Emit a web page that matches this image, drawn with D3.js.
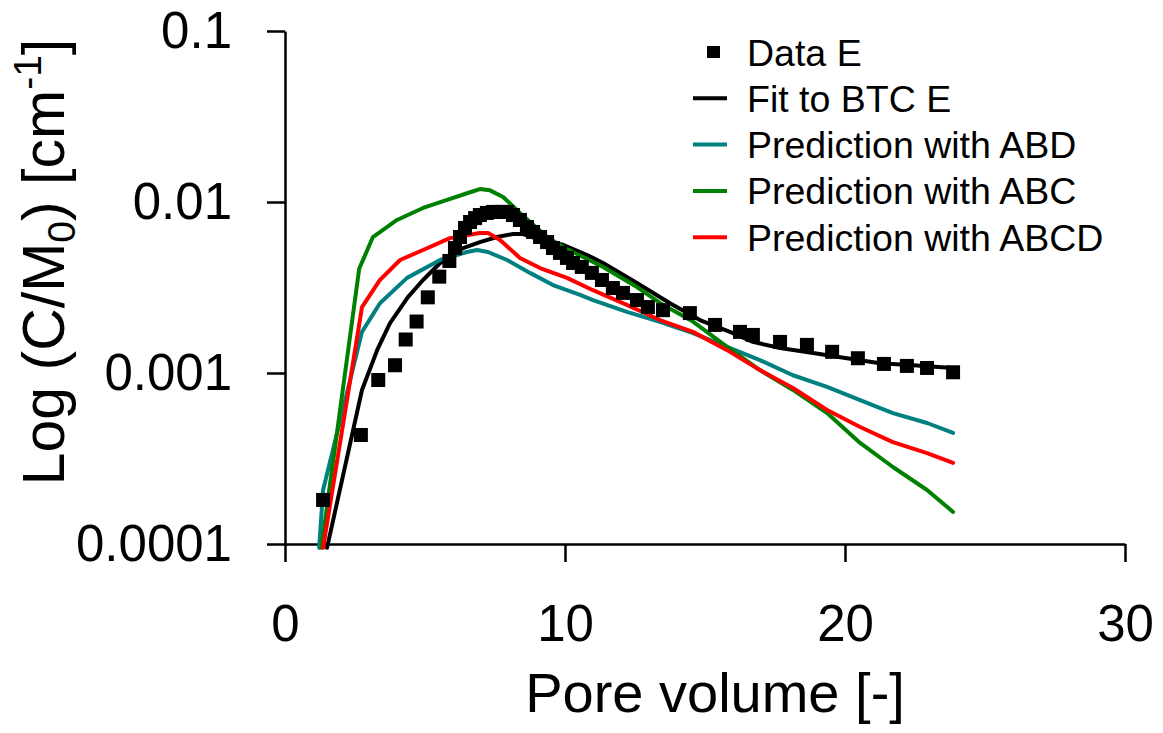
<!DOCTYPE html>
<html>
<head>
<meta charset="utf-8">
<script src="https://cdn.jsdelivr.net/npm/d3@7"></script>
<style>
  body { margin: 0; background: #fff; }
  svg { font-family: "Liberation Sans", Arial, sans-serif; }
</style>
</head>
<body>
<div id="chart"></div>
<script>
// Data (x = pore volume, y = C/M0)
const dataX = [1.36, 2.71, 3.33, 3.93, 4.31, 4.70, 5.10, 5.51, 5.87, 6.07, 6.25, 6.43, 6.61, 6.79, 6.96, 7.21, 7.43, 7.68, 7.93, 8.14, 8.39, 8.64, 8.86, 9.11, 9.36, 9.57, 9.82, 10.07, 10.29, 10.6, 10.96, 11.32, 11.71, 12.07, 12.57, 12.96, 13.5, 14.46, 15.36, 16.25, 16.71, 17.68, 18.64, 19.54, 20.46, 21.39, 22.21, 22.93, 23.86];
const dataY = [1.81e-4, 4.34e-4, 9.1e-4, 1.11e-3, 1.57e-3, 2.0e-3, 2.77e-3, 3.66e-3, 4.52e-3, 5.38e-3, 6.24e-3, 7.05e-3, 7.64e-3, 8.05e-3, 8.39e-3, 8.63e-3, 8.75e-3, 8.75e-3, 8.75e-3, 8.39e-3, 7.85e-3, 7.14e-3, 6.68e-3, 6.24e-3, 5.83e-3, 5.38e-3, 5.04e-3, 4.71e-3, 4.40e-3, 4.17e-3, 3.85e-3, 3.50e-3, 3.14e-3, 2.94e-3, 2.67e-3, 2.43e-3, 2.33e-3, 2.24e-3, 1.91e-3, 1.74e-3, 1.67e-3, 1.52e-3, 1.46e-3, 1.33e-3, 1.22e-3, 1.13e-3, 1.10e-3, 1.07e-3, 1.01e-3];

const fitX = [1.5, 2.75, 3.29, 3.75, 4.39, 4.93, 5.54, 6.36, 6.96, 7.57, 8.14, 8.5, 9.11, 9.93, 10.79, 11.36, 12.57, 13.75, 14.82, 15.89, 16.71, 17.68, 18.86, 20.07, 21.25, 22.43, 23.86];
const fitY = [9.5e-5, 7.96e-4, 1.36e-3, 1.96e-3, 2.78e-3, 3.50e-3, 4.40e-3, 5.38e-3, 5.83e-3, 6.24e-3, 6.50e-3, 6.50e-3, 6.0e-3, 5.62e-3, 4.90e-3, 4.40e-3, 3.36e-3, 2.56e-3, 2.04e-3, 1.74e-3, 1.52e-3, 1.40e-3, 1.31e-3, 1.22e-3, 1.14e-3, 1.11e-3, 1.07e-3];

const abdX = [1.22, 1.36, 2.75, 3.39, 4.36, 5.54, 6.5, 6.86, 7.25, 7.93, 8.75, 9.57, 10.54, 11.0, 12.21, 13.39, 14.57, 15.79, 16.96, 18.14, 19.36, 20.54, 21.71, 22.93, 23.86];
const abdY = [9.5e-5, 2.07e-4, 1.74e-3, 2.56e-3, 3.6e-3, 4.58e-3, 5.1e-3, 5.24e-3, 5.1e-3, 4.58e-3, 3.85e-3, 3.27e-3, 2.86e-3, 2.67e-3, 2.28e-3, 1.99e-3, 1.71e-3, 1.42e-3, 1.19e-3, 9.7e-4, 8.3e-4, 6.95e-4, 5.83e-4, 5.1e-4, 4.46e-4];

const abcX = [1.3, 2.65, 3.14, 4.0, 4.93, 5.79, 6.61, 6.96, 7.32, 7.79, 8.39, 9.36, 9.93, 10.5, 11.36, 12.57, 13.39, 14.57, 15.79, 16.96, 18.14, 19.36, 20.54, 21.71, 22.93, 23.86];
const abcY = [9.5e-5, 4.07e-3, 6.24e-3, 7.85e-3, 9.23e-3, 1.03e-2, 1.14e-2, 1.19e-2, 1.17e-2, 1.07e-2, 8.63e-3, 6.24e-3, 5.46e-3, 4.90e-3, 4.17e-3, 3.18e-3, 2.57e-3, 2.0e-3, 1.42e-3, 1.04e-3, 7.96e-4, 5.83e-4, 3.90e-4, 2.82e-4, 2.07e-4, 1.54e-4];

const abcdX = [1.36, 2.75, 3.39, 4.11, 4.93, 5.89, 6.96, 7.25, 7.68, 8.39, 9.11, 10.07, 11.0, 12.21, 13.39, 14.57, 15.79, 16.96, 18.14, 19.36, 20.54, 21.71, 22.93, 23.86];
const abcdY = [9.5e-5, 2.43e-3, 3.5e-3, 4.58e-3, 5.24e-3, 6.15e-3, 6.59e-3, 6.59e-3, 6.0e-3, 4.71e-3, 4.11e-3, 3.6e-3, 3.05e-3, 2.5e-3, 2.04e-3, 1.74e-3, 1.36e-3, 1.04e-3, 8.17e-4, 6.08e-4, 4.83e-4, 3.94e-4, 3.4e-4, 2.98e-4];

const xTicks = [0, 10, 20, 30];
const yTicks = [1e-4, 1e-3, 1e-2, 1e-1];
const yTickLabels = ["0.0001", "0.001", "0.01", "0.1"];

const seriesNames = ["Data E", "Fit to BTC E", "Prediction with ABD", "Prediction with ABC", "Prediction with ABCD"];
const seriesColors = ["#000000", "#000000", "#008080", "#008000", "#ff0000"];

const width = 1163, height = 733;
const margin = {top: 31, right: 38, bottom: 189, left: 285};

const svg = d3.select("#chart").append("svg")
  .attr("width", width).attr("height", height);

const x = d3.scaleLinear([0, 30], [margin.left, width - margin.right]);
const y = d3.scaleLog([1e-4, 0.1], [height - margin.bottom, margin.top]);

// Axes
svg.append("g")
  .attr("transform", `translate(0, ${height - margin.bottom})`)
  .call(d3.axisBottom(x).tickValues(xTicks).tickSize(18).tickSizeOuter(0).tickPadding(43));
svg.append("g")
  .attr("transform", `translate(${margin.left}, 0)`)
  .call(d3.axisLeft(y).tickValues(yTicks).tickSize(18).tickSizeOuter(0).tickPadding(35)
    .tickFormat((d, i) => yTickLabels[i]));

svg.selectAll(".domain, .tick line").attr("stroke", "#000").attr("stroke-width", 2.5);
svg.selectAll(".tick text").attr("font-size", 51).attr("fill", "#000")
  .attr("font-family", "Liberation Sans, Arial, sans-serif");

// Labels
svg.append("text")
  .attr("x", 715).attr("y", 712)
  .attr("text-anchor", "middle").attr("font-size", 56)
  .text("Pore volume [-]");

const labelY = svg.append("text")
  .attr("transform", "translate(64, 262) rotate(-90)")
  .attr("text-anchor", "middle").attr("font-size", 59);
labelY.append("tspan").text("Log (C/M");
labelY.append("tspan").attr("font-size", 39).attr("dy", 11).text("0");
labelY.append("tspan").attr("dy", -11).text(") [cm");
labelY.append("tspan").attr("font-size", 39).attr("dy", -23).text("-1");
labelY.append("tspan").attr("dy", 23).text("]");

// Lines
const line = d3.line().x(d => x(d[0])).y(d => y(d[1]));
const lines = [
  [fitX, fitY, seriesColors[1]],
  [abdX, abdY, seriesColors[2]],
  [abcX, abcY, seriesColors[3]],
  [abcdX, abcdY, seriesColors[4]]
];
svg.append("g").selectAll("path")
  .data(lines)
  .join("path")
  .attr("fill", "none")
  .attr("stroke", d => d[2])
  .attr("stroke-width", 4)
  .attr("stroke-linejoin", "round")
  .attr("stroke-linecap", "round")
  .attr("d", d => line(d[0].map((v, i) => [v, d[1][i]])));

// Data points
const sq = 14;
svg.append("g").selectAll("rect")
  .data(dataX.map((v, i) => [v, dataY[i]]))
  .join("rect")
  .attr("x", d => x(d[0]) - sq / 2)
  .attr("y", d => y(d[1]) - sq / 2)
  .attr("width", sq).attr("height", sq)
  .attr("fill", "#000");

// Legend
const legend = svg.append("g").attr("font-size", 37.5);
const rowY = i => 52 + i * 46.3;
seriesNames.forEach((name, i) => {
  if (i === 0) {
    legend.append("rect").attr("x", 707).attr("y", rowY(i) - 6)
      .attr("width", 13).attr("height", 12).attr("fill", "#000");
  } else {
    legend.append("line")
      .attr("x1", 693).attr("x2", 727).attr("y1", rowY(i)).attr("y2", rowY(i))
      .attr("stroke", seriesColors[i]).attr("stroke-width", 4);
  }
  legend.append("text").attr("x", 747).attr("y", rowY(i)).attr("dy", "0.36em").text(name);
});
</script>
</body>
</html>
